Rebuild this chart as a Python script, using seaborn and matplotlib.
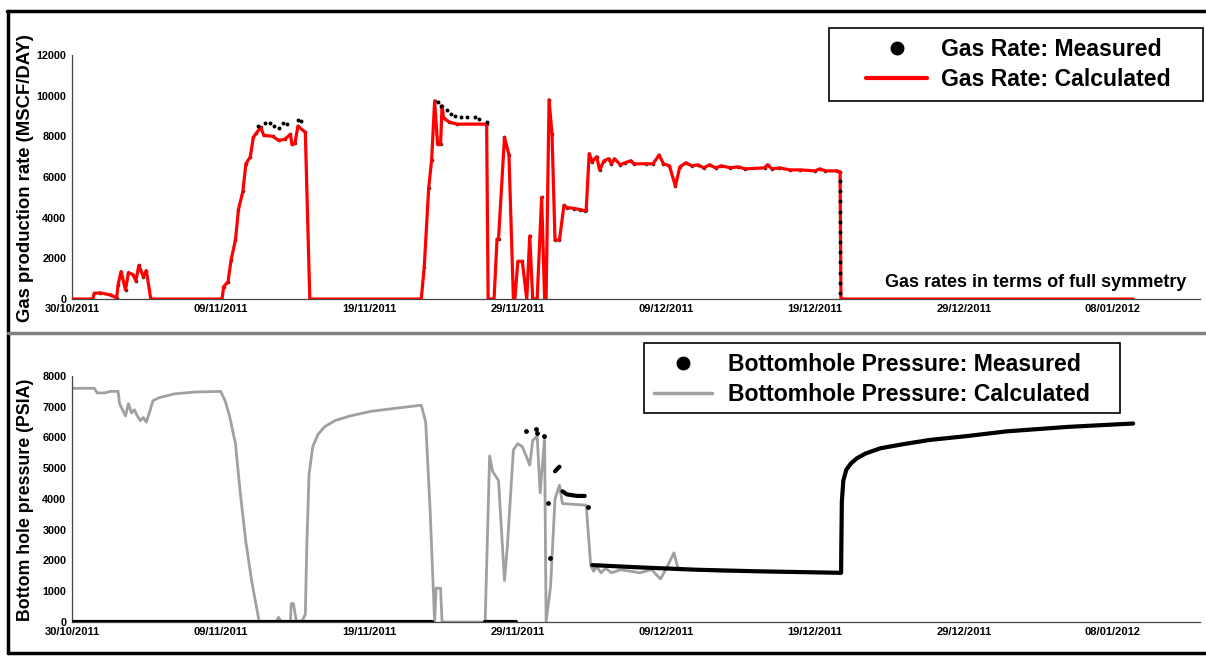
import numpy as np
import pandas as pd
import matplotlib
matplotlib.use("Agg")
import matplotlib.pyplot as plt
import matplotlib.dates as mdates
from matplotlib.lines import Line2D
from matplotlib.patches import Rectangle
from matplotlib.legend_handler import HandlerLine2D
import seaborn as sns

sns.set_style("white")
plt.rcParams['font.family'] = ['Liberation Sans', 'DejaVu Sans']
plt.rcParams['text.color'] = 'black'
plt.rcParams['xtick.color'] = 'black'
plt.rcParams['ytick.color'] = 'black'

start = pd.Timestamp("2011-10-30")

# Gas rate, calculated (days since 30/10/2011, MSCF/DAY)
gas_days = [0, 1.4, 1.5, 1.9, 2.6, 3.0, 3.1, 3.3, 3.6, 3.8, 4.1, 4.3, 4.5, 4.8, 5.0, 5.3,
            10.1, 10.2, 10.5, 10.7, 11.0, 11.2, 11.5, 11.7, 12.0, 12.2, 12.4, 12.7, 12.9,
            13.5, 13.9, 14.3, 14.7, 14.8, 15.0, 15.2, 15.7, 16.0,
            23.5, 23.7, 24.0, 24.2, 24.4, 24.6, 24.8, 24.9, 25.0, 25.4, 25.9, 27.9, 28.0,
            28.4, 28.6, 28.7, 29.1, 29.4, 29.7, 29.8, 30.0, 30.3, 30.6, 30.8, 31.0, 31.3,
            31.6, 31.8, 31.9, 32.1, 32.3, 32.5, 32.8, 33.1, 33.3, 33.8, 34.2, 34.5, 34.6,
            34.8, 35.0, 35.3, 35.5, 35.8, 36.1, 36.3, 36.5, 36.9, 37.2, 37.6, 37.8, 38.6,
            39.1, 39.5, 39.8, 40.2, 40.6, 40.9, 41.3, 41.7, 42.1, 42.5, 42.9, 43.3, 43.7,
            44.3, 44.8, 45.3, 46.6, 46.8, 47.1, 47.6, 48.3, 49.0, 50.0, 50.3, 50.7, 51.5,
            51.68, 51.74, 71.4]
gas_calc = [0, 0, 280, 300, 200, 50, 700, 1350, 450, 1300, 1200, 900, 1650, 1100, 1400, 0,
            0, 600, 850, 1900, 2900, 4400, 5300, 6650, 7000, 7950, 8150, 8450, 8050,
            8000, 7800, 7850, 8100, 7600, 7650, 8500, 8200, 0,
            0, 1550, 5450, 6850, 9750, 7600, 7600, 9500, 8900, 8700, 8600, 8600, 0,
            0, 2950, 2950, 7950, 7100, 0, 0, 1850, 1850, 0, 3100, 0, 0,
            5000, 0, 0, 9800, 8100, 2900, 2900, 4600, 4500, 4450, 4400, 4330, 4400,
            7150, 6750, 7000, 6350, 6800, 6900, 6650, 6900, 6600, 6700, 6800, 6650, 6650,
            6650, 7080, 6650, 6550, 5550, 6500, 6700, 6550, 6600, 6450, 6600, 6450, 6550,
            6450, 6500, 6400, 6450, 6600, 6400, 6450, 6350, 6350, 6300, 6400, 6300, 6300,
            6250, 0, 0]

# Gas rate, measured points that sit off the calculated curve
gas_meas_days = [12.5, 13.0, 13.3, 13.6, 13.9, 14.2, 14.5, 15.2, 15.4,
                 24.6, 24.8, 25.2, 25.5, 25.8, 26.2, 26.6, 27.1, 27.4, 27.9,
                 51.71, 51.71, 51.71, 51.71, 51.71, 51.71, 51.71, 51.71, 51.71, 51.71,
                 51.71, 51.71]
gas_meas_vals = [8500, 8650, 8650, 8500, 8400, 8650, 8600, 8800, 8750,
                 9700, 9500, 9300, 9100, 9000, 8950, 8950, 8950, 8850, 8700,
                 5800, 5300, 4800, 4300, 3800, 3300, 2800, 2300, 1800, 1300, 800, 300]

# Bottomhole pressure, calculated (PSIA)
p_days = [0, 1.5, 1.7, 2.2, 2.6, 3.1, 3.2, 3.4, 3.6, 3.8, 4.0, 4.2, 4.4, 4.6, 4.8, 5.0,
          5.2, 5.45, 5.9, 6.9, 8.3, 10.0, 10.3, 10.6, 11.0, 11.3, 11.7, 12.1, 12.6,
          13.7, 13.9, 14.1, 14.7, 14.75, 14.9, 15.1, 15.5, 15.7, 15.8, 15.95, 16.2,
          16.55, 17.0, 17.7, 18.7, 20.1, 22.1, 23.5, 23.8, 24.1, 24.4, 24.5, 24.8, 24.9,
          27.8, 28.1, 28.3, 28.7, 29.1, 29.3, 29.7, 30.0, 30.3, 30.6, 30.8, 31.0, 31.3,
          31.5, 31.8, 31.9, 32.2, 32.5, 32.8, 33.0, 34.6, 34.9, 35.1, 35.3, 35.6, 35.9,
          36.3, 36.9, 37.6, 38.2, 39.0, 39.6, 40.0, 40.5, 40.8, 42.3, 43.6, 45.6, 47.6,
          50.3, 51.7, 51.8, 51.9, 52.1, 52.4, 52.8, 53.4, 54.4, 55.9, 57.7, 60.1, 62.9,
          67.0, 71.4]
p_calc = [7600, 7600, 7450, 7450, 7500, 7500, 7100, 6900, 6700, 7100, 6800, 6900, 6700,
          6550, 6650, 6500, 6800, 7200, 7300, 7420, 7480, 7500, 7200, 6700, 5800, 4300,
          2600, 1300, 0, 0, 150, 0, 0, 600, 600, 0, 50, 250, 2500, 4800, 5700,
          6100, 6350, 6550, 6700, 6850, 6970, 7050, 6500, 3600, 0, 1100, 1100, 0,
          0, 5400, 4900, 4600, 1350, 2500, 5600, 5800, 5700, 5350, 5100, 5900, 6050,
          4200, 6000, 0, 1150, 4000, 4450, 3850, 3800, 1850, 1650, 1800, 1600, 1750,
          1600, 1700, 1650, 1600, 1700, 1400, 1750, 2250, 1700, 1700, 1650, 1650, 1620,
          1600, 1600, 3900, 4600, 4950, 5150, 5320, 5480, 5650, 5780, 5920, 6040, 6200,
          6345, 6455]

# Bottomhole pressure, measured (dense gauge data drawn as runs)
pm_run = [0, 0, 1, 1, 2, 2, 3, 3, 3, 3, 4, 4, 4, 4, 4,
          5, 5, 5, 5, 5, 5, 5, 5, 5, 5, 5, 5, 5, 5, 5]
pm_days = [0, 24.2, 27.8, 29.9, 32.5, 32.8, 33.0, 33.3, 34.0, 34.5, 35.0, 38.0, 42.0, 46.0,
           51.7, 51.75, 51.8, 51.9, 52.1, 52.4, 52.8, 53.4, 54.4, 55.9, 57.7, 60.1, 62.9,
           67.0, 71.4, 71.4]
pm_vals = [0, 0, 0, 0, 4900, 5050, 4250, 4150, 4100, 4100, 1850, 1780, 1700, 1650, 1600,
           1600, 3900, 4600, 4950, 5150, 5320, 5480, 5650, 5780, 5920, 6040, 6200, 6345,
           6455, 6455]
pm_dot_days = [30.55, 31.22, 31.29, 31.76, 32.05, 32.17, 34.74]
pm_dot_vals = [6200, 6290, 6160, 6040, 3865, 2080, 3735]

tick_days = [0, 10, 20, 30, 40, 50, 60, 70]


def to_dates(days):
    return start + pd.to_timedelta(np.asarray(days, dtype=float), unit="D")


W, H = 1206, 656
fig = plt.figure(figsize=(12.06, 6.56), dpi=100)
ax1 = fig.add_axes([72 / W, 1 - 299 / H, 1128 / W, 244 / H])
ax2 = fig.add_axes([72 / W, 1 - 622 / H, 1128 / W, 246 / H])

# top panel: gas rate
sns.lineplot(x=to_dates(gas_days), y=gas_calc, ax=ax1, color="#ff0000", lw=2.3,
             estimator=None, sort=False, zorder=3)
nz = [i for i, v in enumerate(gas_calc) if v > 0]
sns.scatterplot(x=to_dates([gas_days[i] for i in nz]), y=[gas_calc[i] for i in nz],
                ax=ax1, color="#333333", s=7, linewidth=0, zorder=2)
sns.scatterplot(x=to_dates(gas_meas_days), y=gas_meas_vals, ax=ax1, color="black",
                s=8, linewidth=0, zorder=4)
ax1.set_ylim(0, 12000)
ax1.set_yticks(range(0, 12001, 2000))

# bottom panel: pressure
sns.lineplot(x=to_dates(p_days), y=p_calc, ax=ax2, color="#a0a0a0", lw=2,
             estimator=None, sort=False, zorder=2)
pm = pd.DataFrame({"t": to_dates(pm_days), "p": pm_vals, "run": pm_run})
sns.lineplot(data=pm, x="t", y="p", units="run", estimator=None, sort=False, ax=ax2,
             color="black", lw=3, zorder=3)
sns.scatterplot(x=to_dates(pm_dot_days), y=pm_dot_vals, ax=ax2, color="black",
                s=12, linewidth=0, zorder=4)
ax2.set_ylim(0, 8000)
ax2.set_yticks(range(0, 8001, 1000))

for ax in (ax1, ax2):
    ax.set_xlim(start, start + pd.Timedelta(days=75.9))
    ax.set_xticks(to_dates(tick_days))
    ax.xaxis.set_major_formatter(mdates.DateFormatter("%d/%m/%Y"))
    ax.set_xlabel("")
    ax.set_ylabel("")
    ax.set_facecolor("white")
    for s in ("top", "right"):
        ax.spines[s].set_visible(False)
    ax.spines["left"].set_color("#444444")
    ax.spines["bottom"].set_color("#444444")
    ax.spines["left"].set_linewidth(0.9)
    ax.spines["bottom"].set_linewidth(0.9)
    ax.tick_params(axis="y", direction="out", length=3, width=0.8, pad=1,
                   labelsize=7.8, color="#444444", labelcolor="black")
    ax.tick_params(axis="x", direction="out", length=0, pad=3.5, labelsize=8,
                   labelcolor="black")
    for lab in ax.get_xticklabels() + ax.get_yticklabels():
        lab.set_fontweight("bold")
    if ax.get_legend() is not None:
        ax.get_legend().remove()

fig.text(26 / W, 1 - 178 / H, "Gas production rate (MSCF/DAY)", rotation=90,
         ha="center", va="center", fontsize=13.3, fontweight="bold", color="black")
fig.text(26 / W, 1 - 500 / H, "Bottom hole pressure (PSIA)", rotation=90,
         ha="center", va="center", fontsize=12.8, fontweight="bold", color="black")
ax1.text(0.988, 0.066, "Gas rates in terms of full symmetry", transform=ax1.transAxes,
         ha="right", va="center", fontsize=13, fontweight="bold", color="black")

FS = 16.6
h1 = [Line2D([], [], ls="none", marker="o", color="black", markersize=9),
      Line2D([], [], color="#ff0000", lw=3)]
fig.legend(h1, ["Gas Rate: Measured", "Gas Rate: Calculated"],
           loc="upper left", bbox_to_anchor=(829 / W, 1 - 28 / H),
           bbox_transform=fig.transFigure, frameon=False, labelcolor="black",
           prop={"size": FS, "weight": "bold"},
           handlelength=3.8, handletextpad=0.6, labelspacing=0.3,
           borderpad=0.45, borderaxespad=0,
           handler_map={h: HandlerLine2D(xpad=1.17) for h in h1})

h2 = [Line2D([], [], ls="none", marker="o", color="black", markersize=9),
      Line2D([], [], color="#a0a0a0", lw=2.5)]
fig.legend(h2, ["Bottomhole Pressure: Measured", "Bottomhole Pressure: Calculated"],
           loc="upper left", bbox_to_anchor=(644 / W, 1 - 343 / H),
           bbox_transform=fig.transFigure, frameon=False, labelcolor="black",
           prop={"size": FS, "weight": "bold"},
           handlelength=2.5, handletextpad=0.7, labelspacing=0.3,
           borderpad=0.45, borderaxespad=0)

# legend frames
fig.add_artist(Rectangle((829 / W, 1 - 101 / H), 374 / W, 73 / H, transform=fig.transFigure,
                         fill=False, edgecolor="black", lw=1.2))
fig.add_artist(Rectangle((644 / W, 1 - 413 / H), 476 / W, 70 / H, transform=fig.transFigure,
                         fill=False, edgecolor="black", lw=1.2))

# outer frame and panel separator
fig.add_artist(Line2D([7 / W, 1], [1 - 11 / H, 1 - 11 / H], color="black", lw=2.5))
fig.add_artist(Line2D([8 / W, 8 / W], [1 - 11 / H, 1 - 653 / H], color="black", lw=2.5))
fig.add_artist(Line2D([8 / W, 1], [1 - 653 / H, 1 - 653 / H], color="black", lw=2.5))
fig.add_artist(Line2D([8 / W, 1], [1 - 333 / H, 1 - 333 / H], color="#808080", lw=2.5))

fig.savefig("out.png", dpi=100, facecolor="white")
